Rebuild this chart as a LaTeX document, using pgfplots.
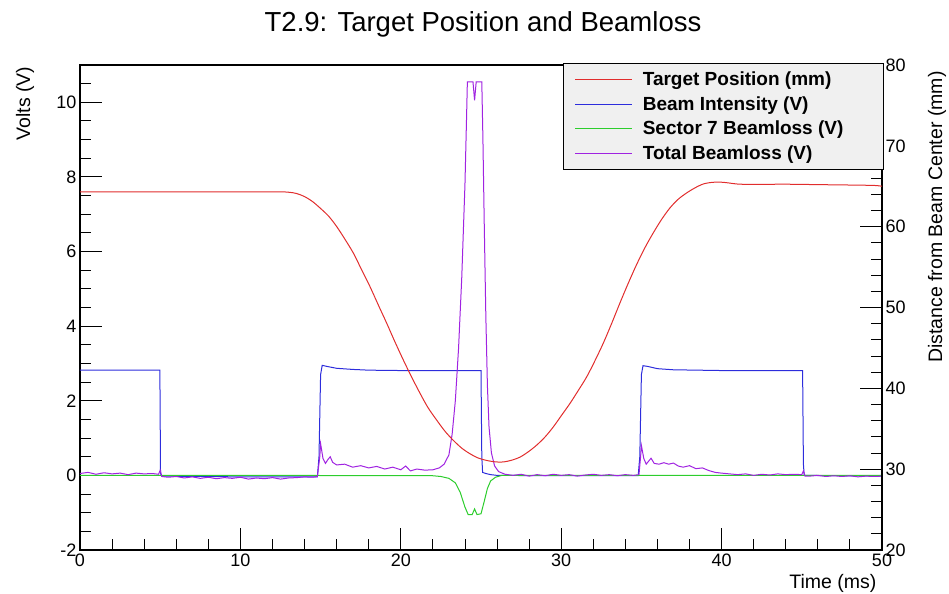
\documentclass[border=0pt]{standalone}
\usepackage{pgfplots}
\pgfplotsset{compat=1.18}
\usepackage{fontspec}
\setmainfont{Liberation Sans}
\definecolor{cred}{RGB}{225,45,45}
\definecolor{cblue}{RGB}{45,45,220}
\definecolor{cgreen}{RGB}{45,205,45}
\definecolor{cpurple}{RGB}{160,35,225}
\definecolor{legfill}{RGB}{240,240,240}
\pgfplotsset{
  common/.style={
    scale only axis, width=802pt, height=485pt,
    xmin=0, xmax=50,
    major tick length=22pt, minor tick length=11pt,
    tick style={black, line width=0.9pt},
    tick align=inside,
    /pgf/number format/assume math mode=true,
    ticklabel style={font=\fontsize{18}{18}\selectfont},
    label style={font=\fontsize{19.5}{19.5}\selectfont},
  }
}
\begin{document}
\begin{tikzpicture}
\begin{axis}[common,
  ymin=-2, ymax=11,
  xtick={0,10,...,50}, minor xtick={2,4,...,48},
  ytick={-2,0,...,10}, minor ytick={-1.5,-1,...,10.5},
  xtick pos=left, ytick pos=left,
  axis line style={line width=1.4pt},
  title={T2.9: Target Position and Beamloss},
  title style={at={(axis description cs:0.5025,1.072)}, anchor=center, font=\fontsize{27.5}{27.5}\selectfont},
  xlabel={Time (ms)},
  xlabel style={at={(axis description cs:0.9975,-0.068)}, anchor=east},
  ylabel={Volts (V)},
  ylabel style={at={(axis description cs:-0.0686,1.004)}, anchor=east},
]
\addplot[cblue, line width=1pt] coordinates {
(0,2.82) (4.98,2.82) (5.02,0.05) (5.1,-0.02) (10,-0.04) (14.8,-0.04) (14.9,0.5) (15.0,2.7) (15.1,2.95) (15.4,2.92) (16,2.87) (17,2.84) (18,2.82) (20,2.81) (25.0,2.81) (25.05,0.5) (25.1,0.08) (25.3,0.05) (25.6,0.02) (26,0.0) (30,-0.01) (34.8,-0.01) (34.9,0.5) (35.0,2.7) (35.1,2.94) (35.4,2.92) (36,2.86) (37,2.83) (40,2.81) (45.05,2.81) (45.1,0.3) (45.15,0.0) (50,-0.02)
};
\addplot[cgreen, line width=1pt] coordinates {
(0,0) (14.9,0) (15,-0.01) (22,-0.01) (22.5,-0.03) (23.0,-0.08) (23.4,-0.2) (23.7,-0.45) (24.0,-0.85) (24.2,-1.05) (24.45,-1.05) (24.6,-0.9) (24.75,-1.05) (25.0,-1.03) (25.2,-0.7) (25.4,-0.35) (25.6,-0.15) (25.9,-0.05) (26.3,0) (50,0)
};
\addplot[cpurple, line width=1pt] coordinates {
(0,0.05) (0.5,0.08) (1,0.03) (1.5,0.07) (2,0.04) (2.5,0.06) (3,0.02) (3.5,0.06) (4,0.04) (4.5,0.05) (4.9,0.03) (5.0,0.14) (5.1,-0.03) (5.5,-0.05) (6,-0.03) (6.5,-0.07) (7,-0.04) (7.5,-0.08) (8,-0.05) (8.5,-0.09) (9,-0.06) (9.5,-0.08) (10,-0.05) (10.5,-0.1) (11,-0.07) (11.5,-0.09) (12,-0.06) (12.5,-0.1) (13,-0.07) (13.5,-0.06) (14,-0.04) (14.5,-0.05) (14.8,-0.03) (14.95,0.5) (15.0,0.85) (15.15,0.45) (15.3,0.32) (15.45,0.42) (15.6,0.5) (15.75,0.35) (16,0.28) (16.5,0.3) (17,0.22) (17.5,0.26) (18,0.2) (18.5,0.24) (19,0.17) (19.5,0.22) (20,0.15) (20.3,0.25) (20.6,0.12) (21,0.17) (21.5,0.14) (22,0.15) (22.4,0.2) (22.7,0.3) (23.0,0.55) (23.2,1.1) (23.4,2.0) (23.6,3.4) (23.8,5.3) (24.0,7.8) (24.1,9.6) (24.15,10.55) (24.5,10.55) (24.6,10.05) (24.7,10.55) (25.05,10.55) (25.12,9.0) (25.2,6.8) (25.3,4.3) (25.4,2.4) (25.5,1.3) (25.65,0.6) (25.85,0.25) (26.1,0.1) (26.5,0.03) (27,0.0) (27.5,0.03) (28,-0.02) (28.5,0.02) (29,-0.01) (29.5,0.03) (30,0.0) (30.5,0.02) (31,-0.02) (31.5,0.01) (32,0.03) (32.5,0.0) (33,0.02) (33.5,-0.01) (34,0.02) (34.5,0.0) (34.85,0.02) (34.95,0.5) (35.0,0.8) (35.15,0.45) (35.3,0.3) (35.45,0.38) (35.6,0.46) (35.8,0.32) (36.1,0.3) (36.4,0.34) (36.7,0.3) (37,0.33) (37.3,0.25) (37.6,0.22) (38,0.26) (38.4,0.18) (38.8,0.2) (39.2,0.13) (39.6,0.08) (40,0.06) (40.5,0.04) (41,0.02) (41.5,0.04) (42,0.0) (42.5,0.03) (43,0.01) (43.5,0.04) (44,0.02) (44.5,0.03) (45.0,0.02) (45.1,0.12) (45.2,-0.02) (45.5,-0.02) (46,0.0) (46.5,-0.03) (47,-0.01) (47.5,-0.03) (48,-0.01) (48.5,-0.04) (49,-0.02) (49.5,-0.03) (50,-0.02)
};
\end{axis}
\begin{axis}[common,
  ymin=20, ymax=80,
  axis x line=none, axis y line*=right,
  axis line style={line width=1.4pt, -},
  tick align=inside,
  ytick={20,30,...,80}, minor ytick={22,24,...,78},
  ylabel={Distance from Beam Center (mm)},
  ylabel style={at={(axis description cs:1.0686,0.994)}, anchor=east, rotate=0},
  legend style={at={(axis description cs:1.003,1.004)}, anchor=north east,
    fill=legfill, draw=black, line width=1.2pt,
    font=\fontsize{19}{21}\selectfont\bfseries,
    row sep=5.5pt, inner xsep=11pt, inner ysep=6pt,
    /tikz/every odd column/.append style={column sep=8pt}},
  legend cell align=left,
  legend image code/.code={\draw[#1, line width=1pt] (0pt,0pt) -- (57pt,0pt);},
]
\coordinate (sw) at (rel axis cs:0,0);
\coordinate (ne) at (rel axis cs:1,1);
\addplot[cred, line width=1pt, smooth] coordinates {
(0,64.31) (6,64.31) (12,64.31) (13.0,64.26) (13.5,64.1) (14.0,63.72) (14.5,63.1) (14.96,62.32) (15.5,61.3) (16.0,60.02) (16.5,58.5) (17.04,56.74) (17.5,54.9) (18.08,52.58) (18.6,50.3) (19.12,48.06) (19.6,45.9) (20.16,43.49) (20.7,41.3) (21.2,39.38) (21.7,37.6) (22.24,36.06) (22.75,34.7) (23.27,33.57) (23.8,32.6) (24.31,31.91) (24.8,31.4) (25.35,31.08) (25.9,30.9) (26.39,30.89) (26.9,31.1) (27.43,31.49) (27.95,32.15) (28.47,32.97) (29.0,34.0) (29.51,35.23) (30.0,36.6) (30.55,38.14) (31.07,39.75) (31.59,41.42) (32.1,43.4) (32.62,45.57) (33.14,48.0) (33.66,50.55) (34.18,53.0) (34.7,55.31) (35.22,57.4) (35.74,59.23) (36.26,60.9) (36.78,62.32) (37.3,63.4) (37.82,64.17) (38.34,64.8) (38.86,65.28) (39.4,65.48) (39.9,65.51) (40.4,65.42) (40.94,65.28) (41.77,65.23) (44,65.25) (46,65.2) (48,65.15) (49.5,65.1) (50,65.0)
};
\addlegendentry{\makebox[228pt][l]{Target Position (mm)}}
\addlegendimage{cblue}
\addlegendentry{\makebox[228pt][l]{Beam Intensity (V)}}
\addlegendimage{cgreen}
\addlegendentry{\makebox[228pt][l]{Sector 7 Beamloss (V)}}
\addlegendimage{cpurple}
\addlegendentry{\makebox[228pt][l]{Total Beamloss (V)}}
\end{axis}
\pgfresetboundingbox
\path ([shift={(-80pt,-44pt)}]sw) rectangle ([shift={(67pt,65pt)}]ne);
\end{tikzpicture}
\end{document}
